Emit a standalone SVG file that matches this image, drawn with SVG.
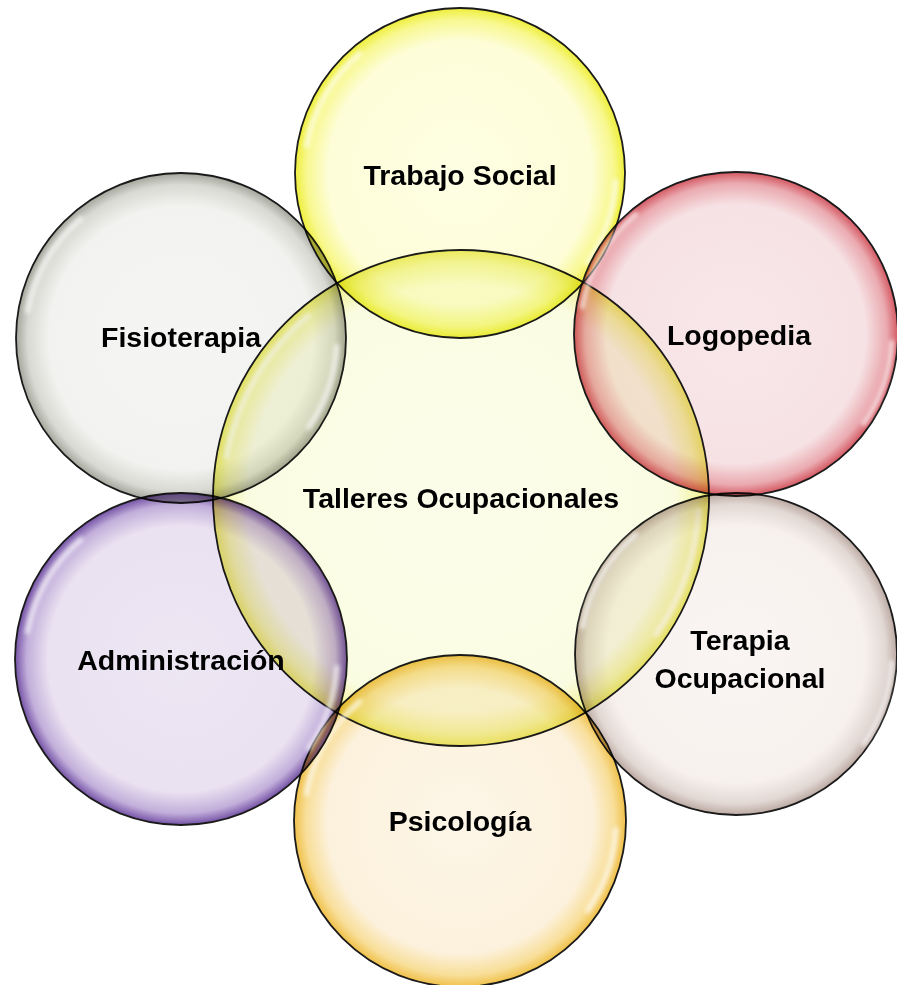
<svg xmlns="http://www.w3.org/2000/svg" xmlns:xlink="http://www.w3.org/1999/xlink" width="897" height="985" viewBox="0 0 897 985">
<defs>
<style>
.bub{mix-blend-mode:multiply;stroke:#1a1a1a;stroke-width:1.8}
.hl{fill:none;stroke:#ffffff;stroke-width:5;stroke-linecap:round;opacity:0.7;filter:url(#blur)}
.lbl{font-family:"Liberation Sans",Arial,sans-serif;font-weight:bold;font-size:28.5px;fill:#000;text-anchor:middle}
</style>
<filter id="blur" x="-20%" y="-20%" width="140%" height="140%"><feGaussianBlur stdDeviation="2"/></filter>
<radialGradient id="gC"><stop offset="0" stop-color="#FBFDEA"/><stop offset="0.86" stop-color="#FAFCE2"/><stop offset="0.95" stop-color="#F4F5A8"/><stop offset="1" stop-color="#ECEC6A"/></radialGradient>
<radialGradient id="gT"><stop offset="0" stop-color="#FEFEE4"/><stop offset="0.8" stop-color="#FDFDD8"/><stop offset="0.93" stop-color="#F8F890"/><stop offset="1" stop-color="#EEEE3A"/></radialGradient>
<radialGradient id="gL"><stop offset="0" stop-color="#F8E7E9"/><stop offset="0.8" stop-color="#F6E2E4"/><stop offset="0.93" stop-color="#EAAAB0"/><stop offset="1" stop-color="#D45862"/></radialGradient>
<radialGradient id="gF"><stop offset="0" stop-color="#F5F5F3"/><stop offset="0.8" stop-color="#F2F2F0"/><stop offset="0.93" stop-color="#D8D9D2"/><stop offset="1" stop-color="#A4A69C"/></radialGradient>
<radialGradient id="gA"><stop offset="0" stop-color="#EDE6F3"/><stop offset="0.8" stop-color="#EAE2F1"/><stop offset="0.93" stop-color="#C2AEDA"/><stop offset="1" stop-color="#7452A6"/></radialGradient>
<radialGradient id="gO"><stop offset="0" stop-color="#FAF5F3"/><stop offset="0.8" stop-color="#F7F1EE"/><stop offset="0.93" stop-color="#E2D8D3"/><stop offset="1" stop-color="#BBA9A2"/></radialGradient>
<radialGradient id="gP"><stop offset="0" stop-color="#FDF6E8"/><stop offset="0.8" stop-color="#FCF1DC"/><stop offset="0.93" stop-color="#F8DE98"/><stop offset="1" stop-color="#F0C048"/></radialGradient>
<g id="hl165">
<path class="hl" d="M -153.6 -27.1 A 156 156 0 0 1 -100.3 -119.5"/>
<path class="hl" d="M 155.8 8.2 A 156 156 0 0 1 127.8 89.5"/>
</g>
<g id="hl248">
<path class="hl" d="M -234.4 -41.3 A 238 238 0 0 1 -153.0 -182.3"/>
<path class="hl" d="M 237.7 12.5 A 238 238 0 0 1 195.0 136.5"/>
</g>
</defs>
<rect width="897" height="985" fill="#ffffff"/>
<g id="talleres">
<circle class="bub" cx="461" cy="498" r="248" fill="url(#gC)"/>
<use xlink:href="#hl248" transform="translate(461,498)"/>
</g>
<g id="trabajo-social">
<circle class="bub" cx="460" cy="173" r="165" fill="url(#gT)"/>
<use xlink:href="#hl165" transform="translate(460,173)"/>
</g>
<g id="logopedia">
<circle class="bub" cx="736" cy="334" r="162" fill="url(#gL)"/>
<use xlink:href="#hl165" transform="translate(736,334)"/>
</g>
<g id="terapia-ocupacional">
<circle class="bub" cx="736" cy="654" r="161" fill="url(#gO)"/>
<use xlink:href="#hl165" transform="translate(736,654)"/>
</g>
<g id="psicologia">
<circle class="bub" cx="460" cy="821" r="166" fill="url(#gP)"/>
<use xlink:href="#hl165" transform="translate(460,821)"/>
</g>
<g id="administracion">
<circle class="bub" cx="181" cy="659" r="166" fill="url(#gA)"/>
<use xlink:href="#hl165" transform="translate(181,659)"/>
</g>
<g id="fisioterapia">
<circle class="bub" cx="181" cy="338" r="165" fill="url(#gF)"/>
<use xlink:href="#hl165" transform="translate(181,338)"/>
</g>
<g id="labels">
<text class="lbl" x="461" y="508">Talleres Ocupacionales</text>
<text class="lbl" x="460" y="185">Trabajo Social</text>
<text class="lbl" x="739" y="345">Logopedia</text>
<text class="lbl" x="740" y="650">Terapia</text>
<text class="lbl" x="740" y="688">Ocupacional</text>
<text class="lbl" x="460" y="831">Psicología</text>
<text class="lbl" x="181" y="670">Administración</text>
<text class="lbl" x="181" y="347">Fisioterapia</text>
</g>
</svg>
